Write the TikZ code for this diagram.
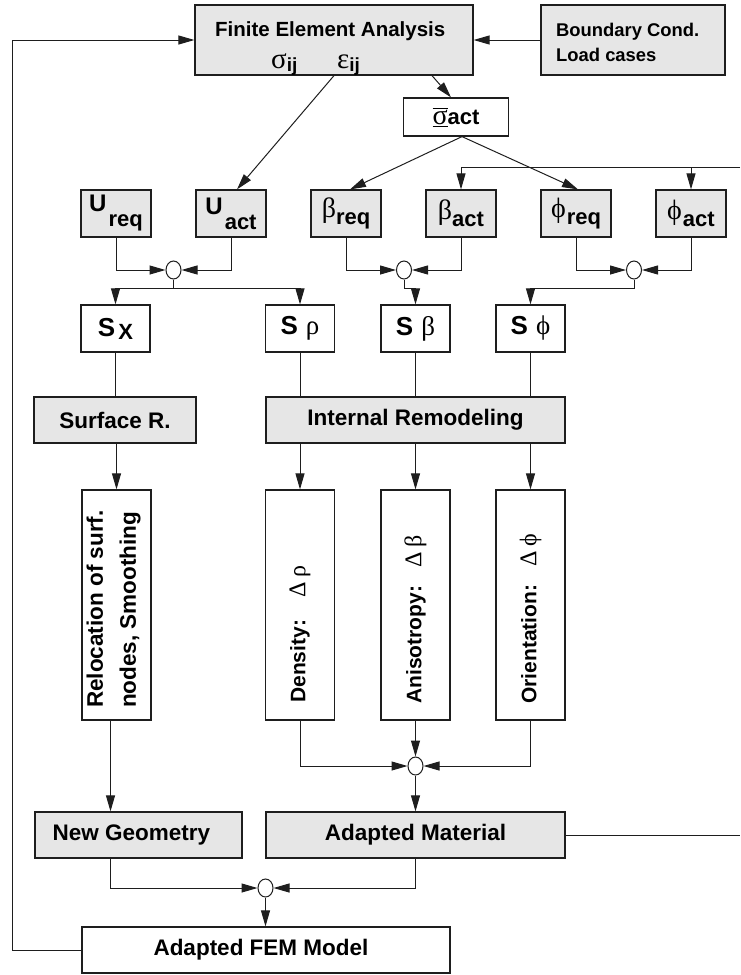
\documentclass[tikz,border=0pt]{standalone}
\usepackage{fontspec}
\setmainfont{Liberation Sans}
\newfontfamily\grf{Liberation Serif}
\usetikzlibrary{arrows.meta,calc,shapes.geometric}
\newcommand\fsz[1]{\fontsize{#1}{#1}\selectfont}
\newcommand\gr{\grf\mdseries}
\definecolor{boxgray}{RGB}{230,230,230}
\definecolor{linec}{RGB}{30,30,30}
\begin{document}
\begin{tikzpicture}[x=1pt,y=-1pt,
  box/.style={draw=linec, line width=1.2pt, inner sep=0pt, font=\bfseries},
  gbox/.style={box, fill=boxgray},
  wbox/.style={box, fill=white},
  con/.style={draw=linec, line width=1pt},
  arr/.style={con, -{Triangle[length=16pt,width=9pt]}},
  junc/.style={draw=linec, line width=1pt, fill=white, ellipse, minimum width=15pt, minimum height=18pt, inner sep=0pt},
  rowbox/.style={minimum width=70pt, minimum height=47pt},
  sbox/.style={wbox, minimum width=69pt, minimum height=47pt},
  vbox/.style={wbox, minimum width=69pt, minimum height=230pt},
  lab/.style={inner sep=0pt, font=\bfseries\fsz{22.5}},
]
\useasboundingbox (0,0) rectangle (740,975);

% ---------- top ----------
\node[gbox, minimum width=278pt, minimum height=70pt] (fea) at (334,40) {};
\node[lab, anchor=base west, font=\bfseries\fsz{20.5}] (feat) at (215,36) {Finite Element Analysis};
\node[inner sep=0pt, anchor=base west] (sig) at (271,68) {{\gr\fsz{29}σ}\raisebox{-3.5pt}{\bfseries\fsz{19}ij}};
\node[inner sep=0pt, anchor=base west] (eps) at (337,68) {{\gr\fsz{29}ε}\raisebox{-3.5pt}{\bfseries\fsz{19}ij}};

\node[gbox, minimum width=184pt, minimum height=70pt] (bc) at (633,40) {};
\node[lab, anchor=base west, font=\bfseries\fsz{18.4}] (bct1) at (556,36) {Boundary Cond.};
\node[lab, anchor=base west, font=\bfseries\fsz{18.4}] (bct2) at (556,61) {Load cases};

\node[wbox, minimum width=105pt, minimum height=38pt] (sact) at (456,117)
  {\ensuremath{\overline{\underline{\hbox{\gr\fsz{28}σ}}}}{\fsz{22}act}};

% ---------- U / beta / phi row ----------
\node[gbox, rowbox] (ureq) at (116,213.5) {{\fsz{24}U}\hspace{2pt}\raisebox{-15pt}{\fsz{22}req}};
\node[gbox, rowbox] (uact) at (231,213.5) {{\fsz{24}U}\hspace{2pt}\raisebox{-15pt}{\fsz{22}act}};
\node[gbox, rowbox] (breq) at (346,213.5) {{\gr\fsz{28}β}\raisebox{-7pt}{\fsz{22}req}};
\node[gbox, rowbox] (bact) at (461,213.5) {{\gr\fsz{28}β}\raisebox{-7pt}{\fsz{22}act}};
\node[gbox, rowbox] (preq) at (576,213.5) {{\gr\fsz{28}ϕ}\hspace{1pt}\raisebox{-7pt}{\fsz{22}req}};
\node[gbox, rowbox] (pact) at (691,213.5) {{\gr\fsz{28}ϕ}\hspace{1pt}\raisebox{-7pt}{\fsz{22}act}};

\node[junc] (c1) at (173.5,270) {};
\node[junc] (c2) at (404,270) {};
\node[junc] (c3) at (634,270) {};

% ---------- S row ----------
\node[sbox] (sx) at (115.5,328.5) {{\fsz{26}S}\hspace{3pt}\raisebox{-3pt}{\fsz{22}X}};
\node[sbox] (srho) at (300,328.5) {{\fsz{26}S}\hspace{8pt}{\gr\fsz{27}ρ}};
\node[sbox] (sbeta) at (415.5,328.5) {{\fsz{26}S}\hspace{8pt}{\gr\fsz{27}β}};
\node[sbox] (sphi) at (530.5,328.5) {{\fsz{26}S}\hspace{8pt}{\gr\fsz{27}ϕ}};

% ---------- remodeling ----------
\node[gbox, minimum width=162pt, minimum height=46pt, font=\bfseries\fsz{22.5}] (sr) at (115,420) {Surface R.};
\node[gbox, minimum width=299pt, minimum height=46pt, font=\bfseries\fsz{22.5}] (ir) at (415.5,420) {Internal Remodeling};

\node[vbox] (reloc) at (116.5,605) {};
\node[vbox] (dens) at (300,605) {};
\node[vbox] (aniso) at (415.5,605) {};
\node[vbox] (orient) at (530.5,605) {};

\node[inner sep=0pt, rotate=90, anchor=west, align=left, font=\bfseries\fontsize{22.5}{33}\selectfont] (reloct) at (113.5,708)
  {Relocation of surf.\\nodes, Smoothing};
\node[inner sep=0pt, rotate=90, anchor=west, font=\bfseries\fsz{21}] (denst) at (300,703)
  {Density:\hspace{22pt}{\gr\fsz{24}Δ\hspace{5pt}ρ}};
\node[inner sep=0pt, rotate=90, anchor=west, font=\bfseries\fsz{21}] (anisot) at (415.5,704)
  {Anisotropy:\hspace{18pt}{\gr\fsz{24}Δ\hspace{5pt}β}};
\node[inner sep=0pt, rotate=90, anchor=west, font=\bfseries\fsz{21}] (orientt) at (530.5,704)
  {Orientation:\hspace{18pt}{\gr\fsz{24}Δ\hspace{5pt}ϕ}};

\node[junc] (c4) at (415.5,766) {};

% ---------- bottom ----------
\node[gbox, minimum width=207pt, minimum height=46pt, font=\bfseries\fsz{22.5}] (ng) at (138.5,835) {New Geometry\hspace*{14pt}};
\node[gbox, minimum width=299pt, minimum height=46pt, font=\bfseries\fsz{22.5}] (am) at (415.5,835) {Adapted Material};
\node[junc] (c5) at (265.5,888) {};
\node[wbox, minimum width=368pt, minimum height=46pt, font=\bfseries\fsz{22.5}] (afm) at (266,950) {Adapted FEM Model\hspace*{10pt}};

% ---------- free ends at the right margin ----------
\coordinate (rtop) at (740,167);
\coordinate (rbot) at (740,835);

% ---------- connectors ----------
\draw[arr] (bc.west) -- (fea.east);
\draw[arr] (afm.west) -- (12,950) -- (12,40) -- (fea.west);
\draw[arr] ($(fea.south)+(98,0)$) -- ($(sact.north)+(-5,0)$);
\draw[arr] (fea.south) -- ($(uact.north)+(6,0)$);
\draw[arr] ($(sact.south)+(6,0)$) -- ($(breq.north)+(4,0)$);
\draw[arr] ($(sact.south)+(6,0)$) -- ($(preq.north)+(2,0)$);
\draw[arr] (rtop) -| (bact.north);
\draw[arr] (pact.north |- rtop) -- (pact.north);
\draw[con] (am.east) -- (rbot);

\draw[arr] (ureq.south) |- (c1.west);
\draw[arr] (uact.south) |- (c1.east);
\draw[arr] (breq.south) |- (c2.west);
\draw[arr] (bact.south) |- (c2.east);
\draw[arr] (preq.south) |- (c3.west);
\draw[arr] (pact.south) |- (c3.east);

\draw[arr] (c1.south) -- ++(0,9) -| (sx.north);
\draw[arr] (c1.south) -- ++(0,9) -| (srho.north);
\draw[arr] (c2.south) -- ++(0,9) -| (sbeta.north);
\draw[arr] (c3.south) -- ++(0,9) -| (sphi.north);

\draw[con] (sx.south) -- (sx.south |- sr.north);
\draw[con] (srho.south) -- (srho.south |- ir.north);
\draw[con] (sbeta.south) -- (sbeta.south |- ir.north);
\draw[con] (sphi.south) -- (sphi.south |- ir.north);

\draw[arr] (reloc.north |- sr.south) -- (reloc.north);
\draw[arr] (dens.north |- ir.south) -- (dens.north);
\draw[arr] (aniso.north |- ir.south) -- (aniso.north);
\draw[arr] (orient.north |- ir.south) -- (orient.north);

\draw[arr] (dens.south) |- (c4.west);
\draw[arr] (orient.south) |- (c4.east);
\draw[arr] (aniso.south) -- (c4.north);
\draw[arr] (c4.south) -- (am.north);

\coordinate (rb) at ($(reloc.south)+(-6,0)$);
\draw[arr] (rb) -- (rb |- ng.north);
\draw[arr] (rb |- ng.south) |- (c5.west);
\draw[arr] (am.south) |- (c5.east);
\draw[arr] (c5.south) -- (c5.south |- afm.north);
\end{tikzpicture}
\end{document}
